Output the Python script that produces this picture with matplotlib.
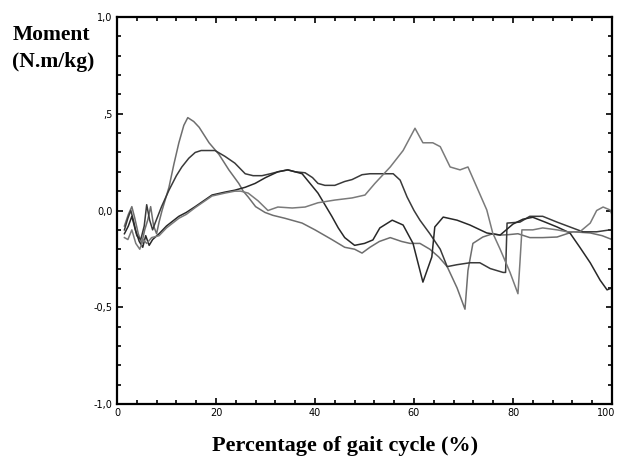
import matplotlib
matplotlib.use("Agg")
import matplotlib.pyplot as plt
import matplotlib.transforms as mtransforms
from matplotlib.ticker import MultipleLocator, FixedLocator, FixedFormatter

# % of gait cycle / moment (N.m/kg), one list pair per trial
xA = [1.5, 2.3, 3.0, 3.6, 4.3, 5.0, 5.6, 6.2, 6.8, 7.4, 8.0, 8.5, 9.1, 10.5, 11.5, 12.5, 13.5,
      14.3, 15.5, 16.6, 18.6, 20.6, 22.6, 24.6, 25.5, 26.5, 28.0, 29.9, 31.5, 33.9, 37.4, 40.0,
      43.4, 46.0, 48.0, 49.5, 51.1, 53.0, 55.2, 57.5, 59.2, 61.2, 63.2, 65.0, 66.7, 68.7, 70.3,
      70.9, 71.9, 73.9, 75.9, 77.4, 79.0, 81.0, 83.4, 86.0, 88.9, 92.1, 95.6, 98.0, 100]
yA = [-0.08, -0.02, 0.02, -0.04, -0.12, -0.17, -0.10, -0.05, 0.02, -0.08, -0.12, -0.06, 0.0,
      0.12, 0.24, 0.35, 0.44, 0.48, 0.46, 0.43, 0.35, 0.29, 0.21, 0.14, 0.10, 0.07, 0.02, -0.01,
      -0.025, -0.04, -0.065, -0.10, -0.15, -0.19, -0.20, -0.22, -0.19, -0.16, -0.14, -0.16, -0.17,
      -0.17, -0.20, -0.24, -0.29, -0.40, -0.51, -0.31, -0.17, -0.137, -0.12, -0.127, -0.125, -0.12,
      -0.14, -0.14, -0.137, -0.11, -0.116, -0.13, -0.15]

xB = [1.5, 2.2, 2.8, 3.4, 4.0, 4.8, 5.5, 6.0, 6.6, 7.2, 7.7, 9.0, 10.5, 12.0, 13.1, 14.5, 15.8,
      17.0, 18.6, 19.8, 21.8, 23.8, 25.9, 27.5, 29.3, 31.0, 32.5, 34.5, 36.0, 38.0, 39.5, 40.6,
      42.0, 44.0, 46.0, 47.5, 49.5, 51.1, 53.7, 55.8, 57.2, 58.6, 60.0, 61.2, 63.2, 65.3, 66.7,
      68.7, 71.3, 73.3, 75.4, 78.0, 78.5, 78.8, 81.4, 83.4, 86.0, 88.9, 91.5, 94.1, 96.9, 99.6, 100]
yB = [-0.10, -0.04, 0.0, -0.06, -0.13, -0.15, -0.08, 0.03, -0.05, -0.10, -0.065, 0.02, 0.105,
      0.18, 0.225, 0.27, 0.30, 0.31, 0.31, 0.31, 0.28, 0.245, 0.19, 0.18, 0.18, 0.19, 0.20, 0.21,
      0.20, 0.195, 0.17, 0.14, 0.13, 0.13, 0.15, 0.16, 0.185, 0.19, 0.19, 0.19, 0.157, 0.07, 0.0,
      -0.05, -0.12, -0.20, -0.29, -0.28, -0.27, -0.27, -0.30, -0.32, -0.32, -0.065, -0.06, -0.03,
      -0.03, -0.06, -0.085, -0.11, -0.11, -0.10, -0.10]

xC = [1.5, 2.3, 3.0, 3.7, 4.5, 5.2, 5.8, 6.5, 7.2, 8.5, 10.0, 12.5, 14.0, 15.8, 17.5, 19.2, 21.8,
      23.8, 25.9, 27.9, 30.0, 32.5, 34.5, 36.0, 37.4, 39.0, 40.6, 42.0, 43.4, 44.7, 46.0, 48.0,
      50.0, 51.7, 53.1, 55.6, 57.8, 59.8, 61.8, 63.6, 64.2, 65.9, 68.7, 71.3, 74.7, 77.4, 80.0,
      82.0, 84.0, 86.5, 88.9, 91.5, 93.5, 95.6, 97.6, 99.0, 100]
yC = [-0.12, -0.08, -0.03, -0.10, -0.16, -0.19, -0.13, -0.18, -0.15, -0.12, -0.08, -0.03, -0.01,
      0.02, 0.05, 0.08, 0.095, 0.105, 0.12, 0.14, 0.17, 0.20, 0.21, 0.20, 0.19, 0.14, 0.09, 0.03,
      -0.03, -0.09, -0.14, -0.18, -0.17, -0.152, -0.09, -0.05, -0.075, -0.17, -0.37, -0.24, -0.085,
      -0.034, -0.05, -0.075, -0.116, -0.127, -0.07, -0.045, -0.035, -0.06, -0.085, -0.116, -0.19,
      -0.27, -0.36, -0.41, -0.40]

xD = [1.5, 2.2, 3.0, 3.8, 4.6, 5.3, 6.0, 7.0, 8.5, 10.0, 12.5, 14.0, 15.8, 17.5, 19.2, 21.8, 23.8,
      25.0, 26.5, 28.5, 30.5, 32.5, 35.4, 38.0, 40.6, 44.0, 47.5, 50.1, 52.1, 55.2, 57.8, 60.2,
      61.8, 63.8, 65.3, 67.3, 69.3, 70.9, 72.7, 74.7, 75.9, 77.4, 79.4, 81.0, 81.4, 81.8, 84.0,
      86.0, 88.9, 91.0, 93.5, 95.6, 96.9, 98.2, 99.6, 100]
yD = [-0.14, -0.15, -0.10, -0.17, -0.20, -0.15, -0.17, -0.14, -0.13, -0.09, -0.04, -0.02, 0.015,
      0.045, 0.075, 0.09, 0.10, 0.10, 0.09, 0.05, 0.0, 0.018, 0.013, 0.018, 0.04, 0.054, 0.065,
      0.08, 0.14, 0.225, 0.31, 0.425, 0.35, 0.35, 0.33, 0.225, 0.21, 0.225, 0.12, 0.003, -0.116,
      -0.20, -0.32, -0.43, -0.27, -0.10, -0.10, -0.09, -0.10, -0.11, -0.11, -0.065, 0.0, 0.018,
      0.003, -0.02]

xticks = [0, 20, 40, 60, 80, 100]
yticks = [-1.0, -0.5, 0.0, 0.5, 1.0]
ylabels = ["-1,0", "-0,5", "0,0", ",5", "1,0"]

fig = plt.figure(figsize=(6.19, 4.62), dpi=100)
ax = fig.add_axes([0.189, 0.1255, 0.7997, 0.8377])

ax.plot(xA, yA, color="#6e6e6e", lw=1.1)
ax.plot(xB, yB, color="#3a3a3a", lw=1.1)
ax.plot(xC, yC, color="#282828", lw=1.1)
ax.plot(xD, yD, color="#7a7a7a", lw=1.1)

ax.set_xlim(0, 100)
ax.set_ylim(-1.0, 1.0)
ax.xaxis.set_major_locator(FixedLocator(xticks))
ax.xaxis.set_minor_locator(MultipleLocator(4))
ax.yaxis.set_major_locator(FixedLocator(yticks))
ax.yaxis.set_major_formatter(FixedFormatter(ylabels))
ax.yaxis.set_minor_locator(MultipleLocator(0.1))
ax.tick_params(which="both", direction="in", top=True, right=True, width=1.2, color="black")
ax.tick_params(which="major", length=4, labelsize=7, pad=3)
ax.tick_params(which="minor", length=3)
for s in ax.spines.values():
    s.set_linewidth(1.6)

# last x label sits against the figure edge, nudge it in
fig.canvas.draw()
last = ax.get_xticklabels()[-1]
last.set_transform(last.get_transform() + mtransforms.ScaledTranslation(-4 / 72, 0, fig.dpi_scale_trans))

fig.text(0.02, 0.945, "Moment\n(N.m/kg)", family="Liberation Serif", weight="bold",
         fontsize=15.5, ha="left", va="top", linespacing=1.45)
fig.text(0.557, 0.035, "Percentage of gait cycle (%)", family="Liberation Serif",
         weight="bold", fontsize=16, ha="center", va="center")

fig.savefig("out.png", dpi=100)
